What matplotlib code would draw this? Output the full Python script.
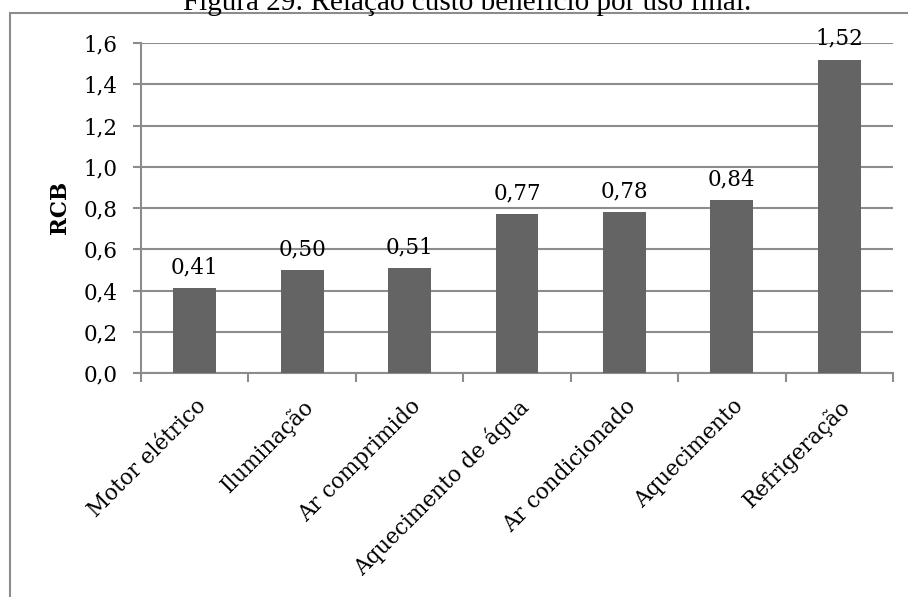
import numpy as np
import matplotlib.pyplot as plt
from matplotlib.patches import Rectangle
from matplotlib.transforms import ScaledTranslation

categorias = ['Motor elétrico', 'Iluminação', 'Ar comprimido', 'Aquecimento de água',
              'Ar condicionado', 'Aquecimento', 'Refrigeração']
rcb = [0.41, 0.50, 0.51, 0.77, 0.78, 0.84, 1.52]
yticks = [0.0, 0.2, 0.4, 0.6, 0.8, 1.0, 1.2, 1.4, 1.6]

plt.rcParams['font.family'] = 'DejaVu Serif'
fs = 15.5
cinza = '#8c8c8c'

fig = plt.figure(figsize=(9.08, 5.97), dpi=100)
ax = fig.add_axes([141/908, 1 - 373/597, 752/908, 330/597])

x = np.arange(len(categorias))
ax.bar(x, rcb, width=0.4, color='#646464', zorder=3)
for xi, v in zip(x, rcb):
    ax.annotate(('%.2f' % v).replace('.', ','), (xi, v), xytext=(0, 7),
                textcoords='offset points', ha='center', va='bottom', fontsize=fs)

ax.set_xlim(-0.5, len(categorias) - 0.5)
ax.set_ylim(0, 1.6)
ax.set_yticks(yticks)
ax.set_yticklabels([('%.1f' % t).replace('.', ',') for t in yticks], fontsize=fs)
ax.yaxis.grid(True, color=cinza, lw=1.5, zorder=0)

ax.set_xticks(x)
ax.set_xticklabels(categorias, rotation=45, ha='right', rotation_mode='anchor', fontsize=fs)
desloc = ScaledTranslation(-4/100, 0, fig.dpi_scale_trans)
for lab in ax.get_xticklabels():
    lab.set_transform(lab.get_transform() + desloc)
ax.set_xticks(np.arange(-0.5, len(categorias)), minor=True)
ax.tick_params(axis='x', which='major', length=0, pad=16)
ax.tick_params(axis='x', which='minor', length=6.5, width=1.5, color=cinza)
ax.tick_params(axis='y', length=6, width=1.5, color=cinza, pad=11)

for s in ['top', 'right']:
    ax.spines[s].set_visible(False)
for s in ['left', 'bottom']:
    ax.spines[s].set_color(cinza)
    ax.spines[s].set_linewidth(1.5)

fig.text(60/908, 1 - 207/597, 'RCB', rotation=90, ha='center', va='center',
         fontweight='bold', fontsize=fs)

# moldura do gráfico
fig.patches.append(Rectangle((10/908, -0.1), 1.2, 1.1 - 12.5/597, transform=fig.transFigure,
                             fill=False, edgecolor=cinza, lw=1.5))

fig.text(467/908, 1 - 10/597, 'Figura 29: Relação custo benefício por uso final.',
         ha='center', va='baseline', fontsize=21, family='Liberation Serif')

fig.savefig('out.png', dpi=100)
